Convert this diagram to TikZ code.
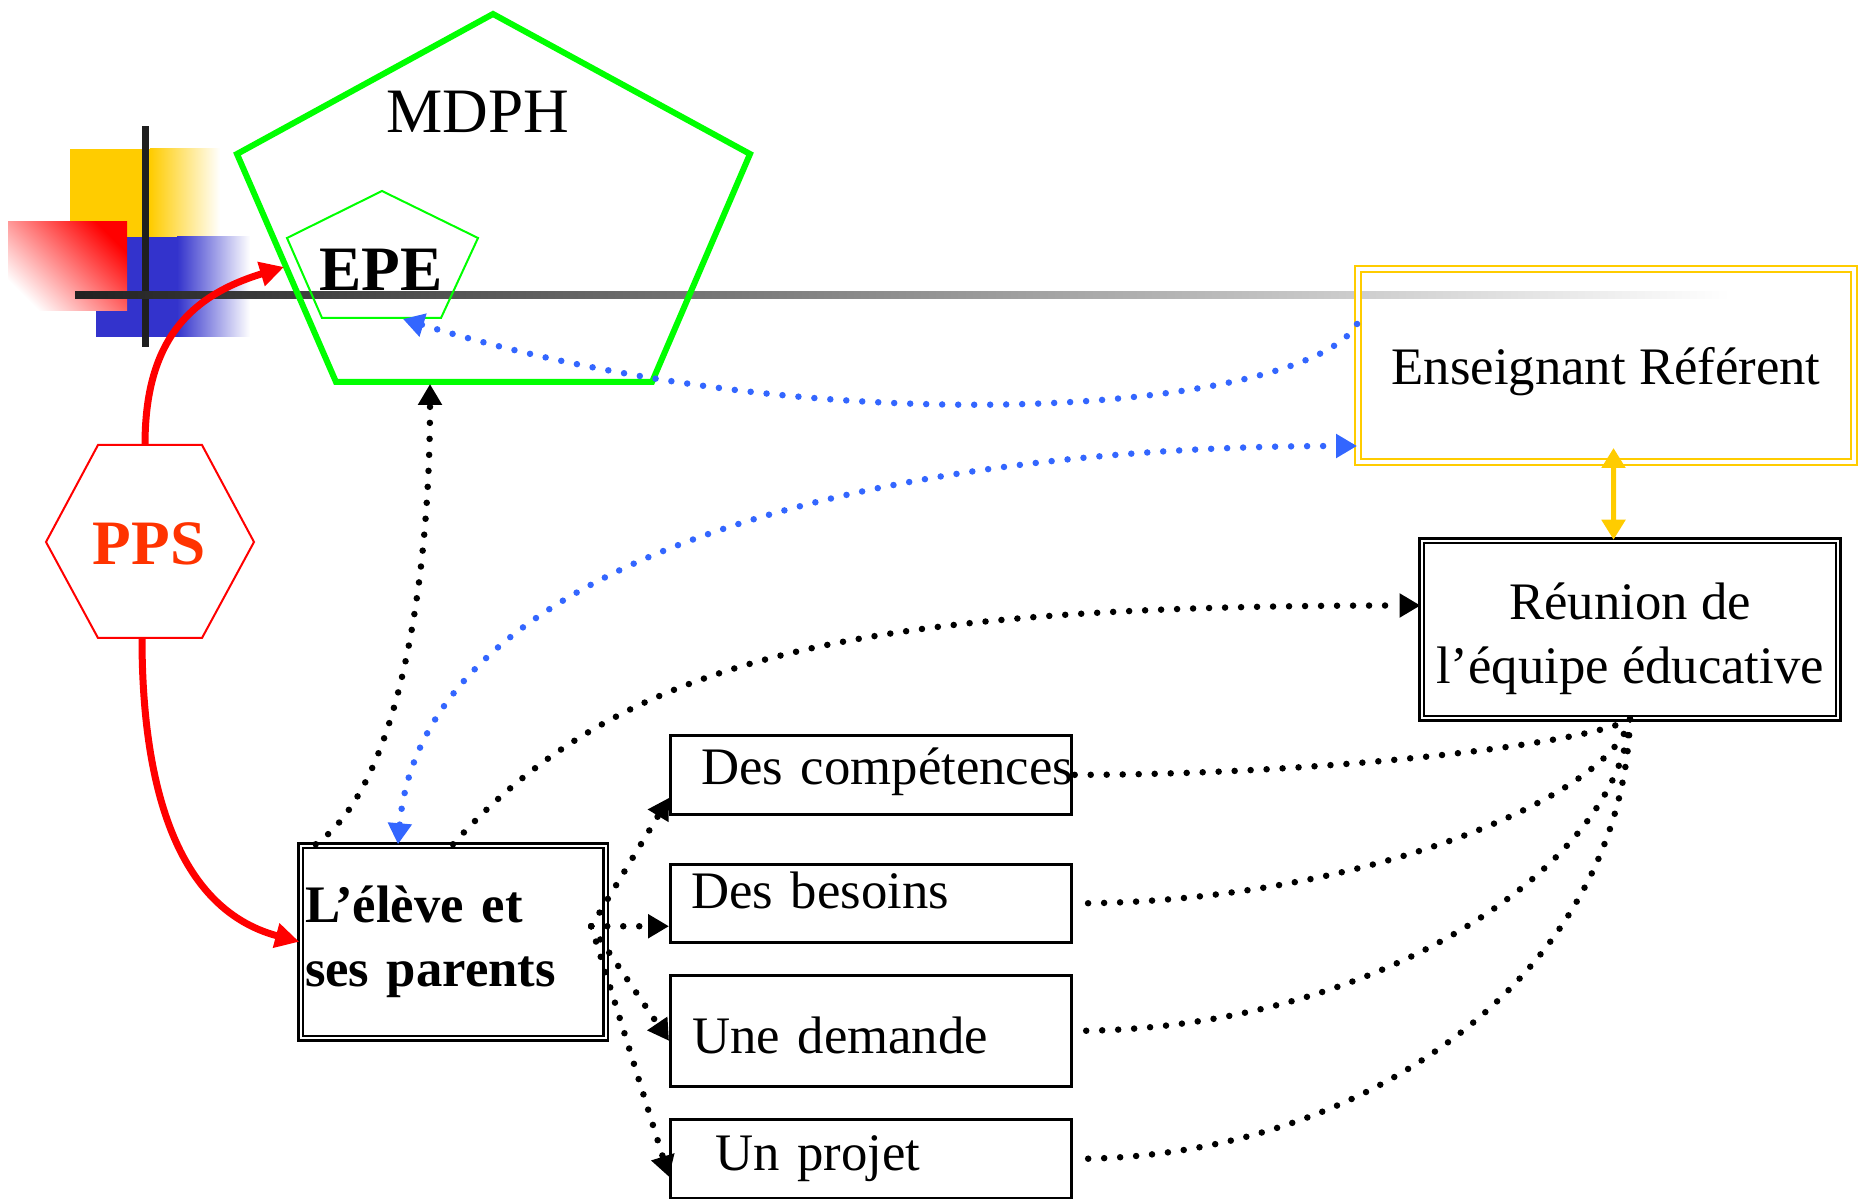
\documentclass[tikz,border=0pt]{standalone}
\usepackage{fontspec}
\setmainfont{Liberation Serif}
\usetikzlibrary{arrows.meta}
\usetikzlibrary{calc}
\definecolor{mdphgreen}{RGB}{0,255,0}
\definecolor{refgold}{RGB}{255,204,0}
\definecolor{linkblue}{RGB}{51,102,255}
\definecolor{ppsred}{RGB}{255,51,0}
\definecolor{logoblue}{RGB}{51,51,204}

\begin{document}
\begin{tikzpicture}[
    dots/.style={line width=0.065cm, line cap=round, dash pattern=on 0pt off 0.16cm},
    dotlink/.style={dots, -{Triangle[length=0.21cm,width=0.23cm]}},
    bluelink/.style={dots, linkblue},
    redlink/.style={red, line width=0.07cm, -{Triangle[length=0.24cm,width=0.24cm]}},
    goldarrow/.style={refgold, line width=0.05cm, {Triangle[length=0.2cm,width=0.23cm]}-{Triangle[length=0.2cm,width=0.23cm]}},
    txt/.style={font=\fontsize{15}{18.2}\selectfont},
    bigtxt/.style={font=\fontsize{18}{21.6}\selectfont},
    bigbold/.style={font=\fontsize{18}{21.6}\selectfont\bfseries},
    dbox/.style={draw, double, line width=0.025cm, double distance=0.02cm, txt},
    item/.style={draw, line width=0.027cm, anchor=north west, align=left, inner ysep=0pt, txt},
  ]
    \useasboundingbox (0,0) rectangle (18.6,-11.99);

    % logo
    \fill[refgold] (0.70,-1.49) rectangle (1.50,-2.37);
    \shade[left color=refgold, right color=white] (1.50,-1.49) rectangle (2.20,-2.37);
    \fill[logoblue] (0.96,-2.37) rectangle (1.77,-3.37);
    \shade[left color=logoblue, right color=white] (1.77,-2.37) rectangle (2.50,-3.37);
    \shade[top color=red, bottom color=white, shading angle=-45] (0.08,-2.22) rectangle (1.27,-3.11);
    \fill[black!88] (1.415,-1.26) rectangle (1.485,-3.47);
    \shade[left color=black!87, middle color=black!35, right color=white] (0.75,-2.915) rectangle (17.3,-2.985);

    % MDPH / EPE
    \draw[mdphgreen, line width=0.06cm] (4.93,-0.14) -- (7.50,-1.54) -- (6.52,-3.82) -- (3.36,-3.82) -- (2.37,-1.54) -- cycle;
    \draw[mdphgreen, line width=0.02cm] (3.82,-1.91) -- (4.78,-2.38) -- (4.41,-3.18) -- (3.22,-3.18) -- (2.87,-2.38) -- cycle;
    \node[bigtxt] (mdph) at (4.78,-1.12) {MDPH};
    \node[bigbold] (epe) at (3.81,-2.70) {EPE};
    \coordinate (mdph-s) at (4.30,-3.84);
    \coordinate (mdph-w) at (2.84,-2.67);
    \coordinate (epe-s) at (4.03,-3.19);

    % PPS
    \draw[red, line width=0.02cm] (0.46,-5.42) -- (0.98,-4.45) -- (2.02,-4.45) -- (2.54,-5.42) -- (2.02,-6.38) -- (0.98,-6.38) -- cycle;
    \node[bigbold, text=ppsred] (pps) at (1.49,-5.44) {PPS};
    \coordinate (pps-n) at (1.45,-4.45);
    \coordinate (pps-s) at (1.42,-6.38);

    \node[dbox, draw=refgold, line width=0.02cm, double distance=0.04cm, minimum width=4.96cm, minimum height=1.93cm, text height=0.42cm, text depth=0.03cm] (er) at (16.06,-3.655) {Enseignant Référent};
    \node[dbox, minimum width=4.165cm, minimum height=1.77cm, align=center] (reunion) at (16.30,-6.295) {\rule{0pt}{0.55cm}Réunion de\\ l’équipe éducative};
    \node[dbox, minimum height=1.925cm, text width=2.96cm, inner xsep=0.045cm, align=left, font=\fontsize{15}{18.2}\selectfont\bfseries] (eleve) at (4.53,-9.4175) {L’élève et\\ ses parents};

    \node[item, inner xsep=0.31cm, text width=3.39cm, minimum height=0.79cm, text height=0.39cm, text depth=0.2cm] (comp) at (6.69,-7.34) {\mbox{Des compétences}};
    \node[item, inner xsep=0.21cm, text width=3.59cm, minimum height=0.78cm, text height=0.36cm, text depth=0.26cm] (besoins) at (6.69,-8.63) {Des besoins};
    \node[item, inner xsep=0.22cm, text width=3.57cm, minimum height=1.11cm, text height=0.45cm, text depth=0cm] (demande) at (6.69,-9.74) {Une demande};
    \node[item, inner xsep=0.45cm, text width=3.11cm, minimum height=0.79cm] (projet) at (6.69,-11.18) {Un projet};
    \coordinate (fan) at ($(eleve.east)+(-0.155,0.155)$);

    \draw[redlink] (pps-n) to[out=90,in=197,looseness=1.15] (mdph-w);
    \draw[redlink] (pps-s) to[out=-90,in=165] (eleve.west);

    \draw[dotlink] ([xshift=0.165cm]eleve.north west) to[out=35,in=-90,out distance=1cm,in distance=2cm] (mdph-s);
    \draw[dotlink] (eleve.north) to[out=48,in=180,out distance=2.6cm,in distance=5.5cm] ([yshift=0.24cm]reunion.west);
    \draw[bluelink, -{Triangle[length=0.21cm,width=0.23cm]}] ([yshift=-0.56cm]er.north west) to[out=-120,in=-17,out distance=1cm,in distance=4.5cm] (epe-s);
    \draw[bluelink, {Triangle[length=0.21cm,width=0.23cm]}-{Triangle[length=0.21cm,width=0.23cm]}] ([xshift=-0.55cm]eleve.north) to[out=85,in=180,out distance=2.8cm,in distance=5cm] ([yshift=-0.805cm]er.west);
    \draw[goldarrow] ([xshift=-0.165cm]reunion.north) -- ([xshift=0.075cm,yshift=0.15cm]er.south);

    \draw[dotlink] (fan) -- ([yshift=-0.23cm]comp.west);
    \draw[dotlink] (fan) -- (fan -| besoins.west);
    \draw[dotlink] (fan) -- ([yshift=-0.1cm]demande.west);
    \draw[dotlink] (fan) -- ([yshift=-0.18cm]projet.west);

    \draw[dots] (reunion.south) to[out=-150,in=0,out distance=0.5cm,in distance=2.5cm] (comp.east);
    \draw[dots] (reunion.south) to[out=-104,in=0,out distance=0.82cm,in distance=2.8cm] (besoins.east);
    \draw[dots] (reunion.south) to[out=-95,in=0,out distance=1.5cm,in distance=3cm] (demande.east);
    \draw[dots] (reunion.south) to[out=-92,in=0,out distance=2.5cm,in distance=3cm] (projet.east);
\end{tikzpicture}
\end{document}
